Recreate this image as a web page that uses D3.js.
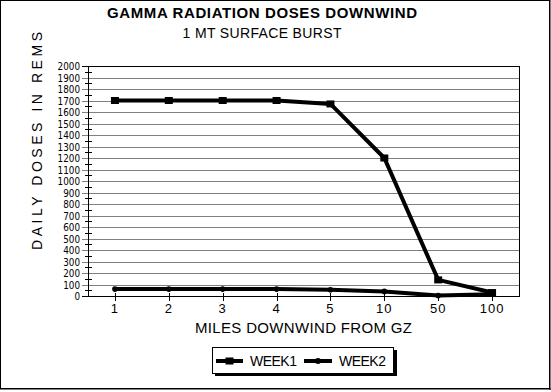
<!DOCTYPE html>
<html>
<head>
<meta charset="utf-8">
<script src="https://cdn.jsdelivr.net/npm/d3@7"></script>
<style>
html,body{margin:0;padding:0;background:#fff;}
svg{display:block;font-family:Arial,"Liberation Sans",sans-serif;}
</style>
</head>
<body>
<svg id="chart" width="551" height="392"></svg>
<script>
const categories = ["1","2","3","4","5","10","50","100"];
const week1 = [1700,1700,1700,1700,1670,1200,140,30];
const week2 = [60,60,60,60,55,40,5,15];
const yTicks = d3.range(0,2001,100);
const seriesNames = ["WEEK1","WEEK2"];

const svg = d3.select("#chart");
const L=88,R=519,T=66,B=296;

// outer frame
svg.append("rect").attr("x",0.5).attr("y",0.5).attr("width",549).attr("height",388)
  .attr("fill","#fff").attr("stroke","#000").attr("stroke-width",1);
svg.append("line").attr("x1",0).attr("x2",551).attr("y1",389).attr("y2",389).attr("stroke","#000").attr("stroke-width",1);
svg.append("line").attr("x1",550).attr("x2",550).attr("y1",0).attr("y2",390).attr("stroke","#000").attr("stroke-width",1);

const x = d3.scalePoint().domain(categories).range([L,R]).padding(0.5);
const y = d3.scaleLinear().domain([0,2000]).range([B,T]);

// gridlines (extend left as major ticks)
svg.append("g").selectAll("line").data(yTicks.filter(v=>v>0&&v<2000)).join("line")
  .attr("x1",82).attr("x2",R).attr("y1",d=>Math.round(y(d))+0.5).attr("y2",d=>Math.round(y(d))+0.5)
  .attr("stroke","#808080").attr("stroke-width",1);
// minor ticks
svg.append("g").selectAll("line").data(d3.range(50,2000,100)).join("line")
  .attr("x1",85).attr("x2",92).attr("y1",d=>Math.round(y(d))+0.5).attr("y2",d=>Math.round(y(d))+0.5)
  .attr("stroke","#000").attr("stroke-width",1);
// major ticks at 0 and 2000
svg.append("g").selectAll("line").data([0,2000]).join("line")
  .attr("x1",82).attr("x2",L).attr("y1",d=>Math.round(y(d))+0.5).attr("y2",d=>Math.round(y(d))+0.5)
  .attr("stroke","#000");

// plot border
svg.append("rect").attr("x",L+0.5).attr("y",T+0.5).attr("width",R-L).attr("height",B-T)
  .attr("fill","none").attr("stroke","#000").attr("stroke-width",1);

// y tick labels
svg.append("g").selectAll("text").data(yTicks).join("text")
  .attr("x",80).attr("y",d=>y(d)+4).attr("text-anchor","end")
  .attr("font-family","'DejaVu Sans Condensed','DejaVu Sans',sans-serif")
  .attr("font-size",9.8).attr("fill","#000").text(d=>d);

// x ticks
svg.append("g").selectAll("line").data(categories).join("line")
  .attr("x1",d=>Math.round(x(d))+0.5).attr("x2",d=>Math.round(x(d))+0.5)
  .attr("y1",B-3).attr("y2",B+5).attr("stroke","#000");
svg.append("g").selectAll("text").data(categories).join("text")
  .attr("x",d=>x(d)).attr("y",313).attr("text-anchor","middle")
  .attr("font-size",13).attr("letter-spacing","1px").text(d=>d);

// series
const line = d3.line().x((d,i)=>x(categories[i])).y(d=>y(d));
svg.append("path").datum(week2).attr("d",line).attr("fill","none")
  .attr("stroke","#000").attr("stroke-width",4).attr("stroke-linejoin","round");
svg.append("g").selectAll("circle").data(week2).join("circle")
  .attr("cx",(d,i)=>x(categories[i])).attr("cy",d=>y(d)).attr("r",2.8).attr("fill","#000");
svg.append("path").datum(week1).attr("d",line).attr("fill","none")
  .attr("stroke","#000").attr("stroke-width",4).attr("stroke-linejoin","miter");
svg.append("g").selectAll("rect").data(week1).join("rect")
  .attr("x",(d,i)=>x(categories[i])-4).attr("y",d=>y(d)-3.5).attr("width",8).attr("height",7).attr("fill","#000");

// titles
svg.append("text").attr("x",262).attr("y",18).attr("text-anchor","middle")
  .attr("font-size",15).attr("font-weight","bold").attr("textLength",310).attr("lengthAdjust","spacing")
  .text("GAMMA RADIATION DOSES DOWNWIND");
svg.append("text").attr("x",262).attr("y",38).attr("text-anchor","middle")
  .attr("font-size",14).attr("textLength",159).attr("lengthAdjust","spacing")
  .text("1 MT SURFACE BURST");
svg.append("text").attr("x",303.5).attr("y",333).attr("text-anchor","middle")
  .attr("font-size",15).attr("textLength",217).attr("lengthAdjust","spacing")
  .text("MILES DOWNWIND FROM GZ");
svg.append("text").attr("transform","translate(42,141) rotate(-90)").attr("text-anchor","middle")
  .attr("font-size",14).attr("textLength",218).attr("lengthAdjust","spacing")
  .text("DAILY DOSES IN REMS");

// legend
const lg = svg.append("g");
lg.append("rect").attr("x",215).attr("y",350).attr("width",182).attr("height",26).attr("fill","#000");
lg.append("rect").attr("x",212.5).attr("y",347.5).attr("width",181).attr("height",26).attr("fill","#fff").attr("stroke","#000");
const items = [{x1:216,x2:243,tx:250},{x1:304,x2:332,tx:339}];
items.forEach((it,i)=>{
  lg.append("line").attr("x1",it.x1).attr("x2",it.x2).attr("y1",361).attr("y2",361).attr("stroke","#000").attr("stroke-width",4);
  if(i===0) lg.append("rect").attr("x",(it.x1+it.x2)/2-4).attr("y",357.5).attr("width",8).attr("height",7);
  else lg.append("circle").attr("cx",(it.x1+it.x2)/2).attr("cy",361).attr("r",3);
  lg.append("text").attr("x",it.tx).attr("y",366).attr("font-size",14).attr("textLength",47).attr("lengthAdjust","spacing").text(seriesNames[i]);
});
</script>
</body>
</html>
